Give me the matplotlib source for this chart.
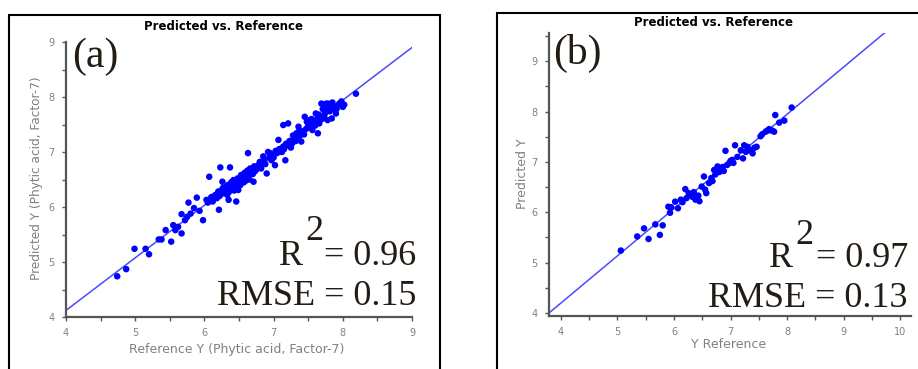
import matplotlib
matplotlib.use("Agg")
import matplotlib.pyplot as plt
from matplotlib.patches import Rectangle
from matplotlib.ticker import MultipleLocator

# panel (a): reference vs predicted, phytic acid, factor 7
a_ref = [4.74, 4.87, 4.99, 5.15, 5.20, 5.34, 5.38, 5.44, 5.52, 5.55, 5.58, 5.62, 5.67, 5.67,
         5.72, 5.75, 5.80, 5.77, 5.85, 5.89, 5.93, 5.98, 6.03, 6.07, 6.10, 6.13, 6.16, 6.20,
         6.21, 6.23, 6.24, 6.26, 6.28, 6.30, 6.32, 6.34, 6.35, 6.36, 6.37, 6.39, 6.40, 6.42,
         6.44, 6.46, 6.48, 6.49, 6.51, 6.53, 6.55, 6.56, 6.58, 6.60, 6.62, 6.63, 6.64, 6.66,
         6.68, 6.70, 6.71, 6.72, 6.75, 6.78, 6.80, 6.82, 6.85, 6.87, 6.90, 6.92, 6.94, 6.97,
         6.99, 7.02, 7.03, 7.05, 7.07, 7.10, 7.12, 7.14, 7.17, 7.18, 7.14, 7.21, 7.23, 7.25,
         7.27, 7.30, 7.33, 7.35, 7.36, 7.38, 7.40, 7.42, 7.45, 7.47, 7.50, 7.52, 7.54, 7.56,
         7.58, 7.61, 7.63, 7.64, 7.66, 7.68, 7.69, 7.71, 7.73, 7.74, 7.76, 7.78, 7.79, 7.81,
         7.83, 7.84, 7.86, 7.88, 7.90, 7.93, 7.95, 7.98, 8.00, 8.02, 8.19,
         6.05, 6.12, 6.18, 6.22, 6.27, 6.33, 6.38, 6.43, 6.45, 6.52, 6.57, 6.61, 6.65, 6.69,
         6.73, 6.77, 6.83, 6.88, 6.95, 7.00, 7.08, 7.15, 7.20, 7.28, 7.32, 7.37, 7.44, 7.48,
         7.55, 7.60, 7.65, 7.70, 7.75, 7.80, 7.85, 7.91]
a_pred = [4.74, 4.87, 5.24, 5.24, 5.14, 5.41, 5.41, 5.58, 5.37, 5.67, 5.58, 5.64, 5.52, 5.87,
          5.76, 5.82, 5.88, 6.08, 5.98, 6.17, 5.93, 5.76, 6.13, 6.55, 6.18, 6.19, 6.22, 6.28,
          5.95, 6.72, 6.30, 6.46, 6.25, 6.34, 6.37, 6.40, 6.13, 6.28, 6.72, 6.45, 6.36, 6.49,
          6.42, 6.10, 6.52, 6.31, 6.44, 6.58, 6.50, 6.55, 6.62, 6.48, 6.66, 6.98, 6.58, 6.70,
          6.67, 6.60, 6.46, 6.74, 6.68, 6.76, 6.82, 6.70, 6.92, 6.86, 6.61, 7.00, 6.90, 6.85,
          6.95, 6.76, 7.02, 6.98, 7.22, 7.06, 7.00, 7.10, 6.85, 7.15, 7.49, 7.52, 7.20, 7.08,
          7.16, 7.25, 7.34, 7.28, 7.46, 7.30, 7.19, 7.38, 7.64, 7.42, 7.50, 7.58, 7.46, 7.40,
          7.55, 7.70, 7.60, 7.34, 7.52, 7.62, 7.88, 7.78, 7.66, 7.70, 7.88, 7.58, 7.88, 7.74,
          7.86, 7.61, 7.78, 7.82, 7.70, 7.85, 7.88, 7.92, 7.82, 7.86, 8.06,
          6.08, 6.10, 6.16, 6.20, 6.35, 6.22, 6.32, 6.30, 6.38, 6.40, 6.45, 6.55, 6.50, 6.62,
          6.65, 6.72, 6.80, 6.78, 6.98, 6.90, 7.05, 7.05, 7.12, 7.30, 7.20, 7.38, 7.32, 7.55,
          7.60, 7.48, 7.68, 7.60, 7.80, 7.80, 7.90, 7.78]
a_fit_x = [4.0, 9.0]
a_fit_y = [4.12, 8.90]

# panel (b): reference vs predicted
b_ref = [5.06, 5.35, 5.47, 5.55, 5.67, 5.75, 5.80, 5.90, 5.93, 6.02, 6.07, 6.12, 6.20, 6.26,
         6.32, 6.38, 6.43, 6.49, 6.53, 6.57, 6.62, 6.71, 6.77, 6.83, 6.91, 6.94, 7.03, 7.08,
         7.18, 7.22, 7.24, 7.33, 7.39, 7.46, 7.53, 7.62, 7.71, 7.79, 7.77, 7.86, 7.95, 8.08,
         5.95, 6.15, 6.22, 6.28, 6.35, 6.40, 6.45, 6.55, 6.66, 6.68, 6.73, 6.80, 6.86, 6.88,
         6.98, 7.00, 7.05, 7.12, 7.27, 7.30, 7.42, 7.56, 7.65, 7.68, 7.74]
b_pred = [5.24, 5.52, 5.68, 5.47, 5.76, 5.55, 5.74, 6.11, 5.99, 6.21, 6.08, 6.25, 6.46, 6.38,
          6.31, 6.25, 6.33, 6.51, 6.71, 6.38, 6.58, 6.84, 6.91, 6.84, 7.22, 6.94, 7.04, 7.33,
          7.23, 7.07, 7.33, 7.23, 7.17, 7.30, 7.51, 7.60, 7.63, 7.93, 7.60, 7.78, 7.82, 8.08,
          6.10, 6.20, 6.28, 6.35, 6.40, 6.30, 6.22, 6.45, 6.68, 6.62, 6.75, 6.80, 6.90, 6.82,
          6.98, 7.02, 6.98, 7.10, 7.20, 7.30, 7.28, 7.55, 7.62, 7.65, 7.62]
b_fit_x = [3.79, 9.72]
b_fit_y = [4.00, 9.56]

W, H = 918, 369
fig = plt.figure(figsize=(W / 100, H / 100), dpi=100)


def fx(px):
    return px / W


def fy(py):
    return 1 - py / H


# outer frames around each panel
fig.patches.append(Rectangle((fx(9), fy(400)), fx(431), fy(15) - fy(400), transform=fig.transFigure,
                             fill=False, edgecolor="black", linewidth=1.5))
fig.patches.append(Rectangle((fx(497), fy(400)), fx(500), fy(13) - fy(400), transform=fig.transFigure,
                             fill=False, edgecolor="black", linewidth=1.5))

tick_col = "#808080"
spine_col = "#555555"
txt_col = "#231c14"
serif = "Liberation Serif"
big = 26
lab = 9


def style_axes(ax, xlim, ylim):
    ax.set_xlim(*xlim)
    ax.set_ylim(*ylim)
    ax.xaxis.set_major_locator(MultipleLocator(1))
    ax.yaxis.set_major_locator(MultipleLocator(1))
    ax.xaxis.set_minor_locator(MultipleLocator(0.5))
    ax.yaxis.set_minor_locator(MultipleLocator(0.5))
    for s in ["top", "right"]:
        ax.spines[s].set_visible(False)
    for s in ["left", "bottom"]:
        ax.spines[s].set_color(spine_col)
        ax.spines[s].set_linewidth(1.6)
    ax.tick_params(which="both", direction="out", length=3, width=1, color=spine_col,
                   labelsize=7, labelcolor=tick_col, pad=5)
    ax.set_facecolor("white")


# ---- panel (a)
ax1 = fig.add_axes([fx(66), fy(317), fx(346), fy(42) - fy(317)])
style_axes(ax1, (4, 9), (4, 9))
ax1.plot(a_fit_x, a_fit_y, color="#4a4aff", linewidth=1.1, zorder=2)
ax1.scatter(a_ref, a_pred, s=22, color="#0000ff", edgecolors="none", zorder=3)
fig.text(fx(224), fy(26), "Predicted vs. Reference", ha="center", va="center",
         fontsize=8.5, fontweight="bold", color="black")
fig.text(fx(37), fy(178), "Predicted Y (Phytic acid, Factor-7)", rotation=90, ha="center", va="center",
         fontsize=8.7, color=tick_col)
fig.text(fx(237), fy(349), "Reference Y (Phytic acid, Factor-7)", ha="center", va="center",
         fontsize=lab, color=tick_col)
fig.text(fx(72), fy(67), "(a)", fontsize=30, family=serif, color=txt_col, ha="left", va="baseline")
fig.text(fx(303), fy(265), "R", fontsize=big, family=serif, color=txt_col, ha="right", va="baseline")
fig.text(fx(305), fy(240), "2", fontsize=big, family=serif, color=txt_col, ha="left", va="baseline")
fig.text(fx(416), fy(265), "= 0.96", fontsize=big, family=serif, color=txt_col, ha="right", va="baseline")
fig.text(fx(416), fy(305), "RMSE = 0.15", fontsize=big, family=serif, color=txt_col, ha="right", va="baseline")

# ---- panel (b)
ax2 = fig.add_axes([fx(549), fy(316), fx(362), fy(33) - fy(316)])
style_axes(ax2, (3.79, 10.19), (3.94, 9.56))
ax2.plot(b_fit_x, b_fit_y, color="#4a4aff", linewidth=1.1, zorder=2)
ax2.scatter(b_ref, b_pred, s=22, color="#0000ff", edgecolors="none", zorder=3)
fig.text(fx(713), fy(23), "Predicted vs. Reference", ha="center", va="center",
         fontsize=8.5, fontweight="bold", color="black")
fig.text(fx(522), fy(174), "Predicted Y", rotation=90, ha="center", va="center",
         fontsize=lab, color=tick_col)
fig.text(fx(729), fy(345), "Y Reference", ha="center", va="center",
         fontsize=lab, color=tick_col)
fig.text(fx(553), fy(64), "(b)", fontsize=30, family=serif, color=txt_col, ha="left", va="baseline")
fig.text(fx(793), fy(267), "R", fontsize=big, family=serif, color=txt_col, ha="right", va="baseline")
fig.text(fx(795), fy(244), "2", fontsize=big, family=serif, color=txt_col, ha="left", va="baseline")
fig.text(fx(908), fy(267), "= 0.97", fontsize=big, family=serif, color=txt_col, ha="right", va="baseline")
fig.text(fx(908), fy(307), "RMSE = 0.13", fontsize=big, family=serif, color=txt_col, ha="right", va="baseline")

fig.savefig("out.png", dpi=100, facecolor="white")
